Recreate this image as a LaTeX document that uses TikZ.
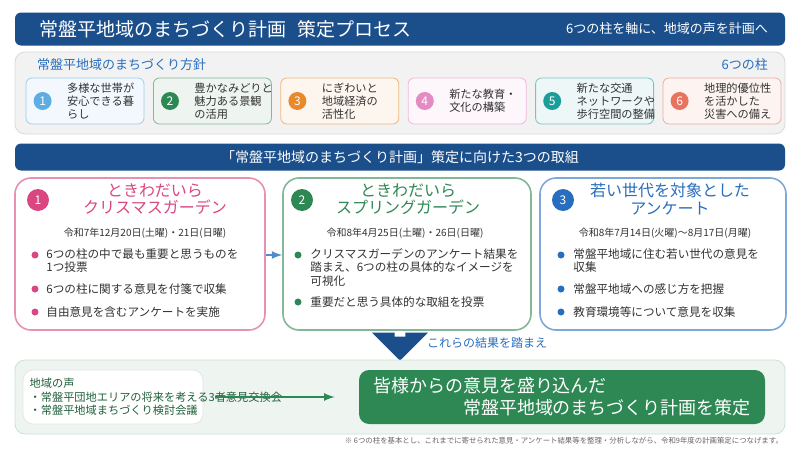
\documentclass[tikz,border=0pt]{standalone}
\usepackage{fontspec}
\setmainfont{Noto Sans CJK JP}
\usetikzlibrary{positioning,shapes.arrows}
\definecolor{mblue}{RGB}{27,79,140}
\definecolor{mgreen}{RGB}{46,136,84}
\definecolor{mpink}{RGB}{217,70,130}
\definecolor{mtblue}{RGB}{40,110,190}
\definecolor{mtext}{RGB}{50,50,50}
\definecolor{pone}{RGB}{93,173,226}
\definecolor{ptwo}{RGB}{46,136,84}
\definecolor{pthree}{RGB}{232,137,43}
\definecolor{pfour}{RGB}{229,139,196}
\definecolor{pfive}{RGB}{26,158,154}
\definecolor{psix}{RGB}{232,115,94}

\begin{document}
\begin{tikzpicture}[x=0.5pt,y=-0.5pt,
    bar/.style={rectangle, rounded corners=3pt, fill=mblue, text=white},
    panel/.style={rectangle, rounded corners=5pt, draw=black!15, fill=#1},
    pillar/.style={rectangle, rounded corners=3pt, draw=#1!60, fill=#1!8, minimum width=59pt, minimum height=23pt, inner sep=0pt},
    num/.style={circle, fill=#1, text=white, minimum size=9pt, inner sep=0pt, font=\fontsize{6}{6}\selectfont},
    ptext/.style={align=left, anchor=west, font=\fontsize{5.6}{6.4}\selectfont, text=mtext},
    card/.style={rectangle, rounded corners=8pt, draw=#1, fill=white, thick, minimum height=76pt, inner sep=0pt},
    ctitle/.style={align=center, font=\fontsize{8}{8.6}\selectfont, text=#1},
    cdate/.style={font=\fontsize{5}{5}\selectfont, text=mtext},
    bul/.style={align=left, anchor=north west, font=\fontsize{5.8}{6.8}\selectfont, text=mtext, text width=96pt, inner sep=0pt},
    dot/.style={circle, fill=#1, minimum size=3.5pt, inner sep=0pt}
    ]
    \useasboundingbox (0,0) rectangle (800,450);
    \fill[white] (0,0) rectangle (800,450);
    %Title
    \node[bar, minimum width=385pt, minimum height=16.5pt] (title) at (400,29) {};
    \node[anchor=west, text=white, font=\fontsize{9.5}{9.5}\selectfont] (titletext) at (32,29) {常盤平地域のまちづくり計画\hspace{0.6em}策定プロセス};
    \node[anchor=east, text=white, font=\fontsize{6.5}{6.5}\selectfont] (subtitle) at (775,29) {6つの柱を軸に、地域の声を計画へ};
    %Policy panel
    \node[panel=black!5, minimum width=385pt, minimum height=41pt] (policy) at (400,93) {};
    \node[anchor=west, text=mtblue, font=\fontsize{6.5}{6.5}\selectfont] (policyhead) at (30,65) {常盤平地域のまちづくり方針};
    \node[anchor=east, text=mtblue, font=\fontsize{6.5}{6.5}\selectfont] (pillarhead) at (775,65) {6つの柱};
    \foreach \i/\c/\t in {1/pone/多様な世帯が\\安心できる暮\\らし,
                          2/ptwo/豊かなみどりと\\魅力ある景観\\の活用,
                          3/pthree/にぎわいと\\地域経済の\\活性化,
                          4/pfour/新たな教育・\\文化の構築,
                          5/pfive/新たな交通\\ネットワークや\\歩行空間の整備,
                          6/psix/地理的優位性\\を活かした\\災害への備え} {
        \pgfmathsetmacro{\xx}{26+(\i-1)*127.4+59}
        \node[pillar=\c] (pillar\i) at (\xx,101) {};
        \node[num=\c] (pnum\i) at ([xshift=8.5pt]pillar\i.west) {\i};
        \node[ptext] (ptext\i) at ([xshift=4pt]pnum\i.east) {\t};
    }
    %Section bar
    \node[bar, minimum width=385pt, minimum height=13.5pt] (section) at (400,157) {};
    \node[text=white, font=\fontsize{7}{7}\selectfont] at (section) {「常盤平地域のまちづくり計画」策定に向けた3つの取組};
    %Cards
    \node[card=mpink!60, minimum width=125pt] (card1) at (140,254) {};
    \node[card=mgreen!60, minimum width=124pt] (card2) at (407,254) {};
    \node[card=mtblue!60, minimum width=123pt] (card3) at (663,254) {};
    \node[num=mpink, minimum size=11pt] (cnum1) at (38,200) {1};
    \node[num=mgreen, minimum size=11pt] (cnum2) at (302,200) {2};
    \node[num=mtblue, minimum size=11pt] (cnum3) at (563,200) {3};
    \node[ctitle=mpink] (ctitle1) at (155,199) {ときわだいら\\クリスマスガーデン};
    \node[ctitle=mgreen] (ctitle2) at (408,199) {ときわだいら\\スプリングガーデン};
    \node[ctitle=mtblue] (ctitle3) at (670,199) {若い世代を対象とした\\アンケート};
    \node[cdate] (date1) at (145,233) {令和7年12月20日(土曜)・21日(日曜)};
    \node[cdate] (date2) at (405,233) {令和8年4月25日(土曜)・26日(日曜)};
    \node[cdate] (date3) at (665,233) {令和8年7月14日(火曜)～8月17日(月曜)};
    % bullets
    \foreach \k/\yy/\t in {1/248/6つの柱の中で最も重要と思うものを\\1つ投票, 2/283/6つの柱に関する意見を付箋で収集, 3/306/自由意見を含むアンケートを実施}
        \node[bul] (b1\k) at (46,\yy) {\t};
    \foreach \k/\yy/\t in {1/248/クリスマスガーデンのアンケート結果を\\踏まえ、6つの柱の具体的なイメージを\\可視化, 2/296/重要だと思う具体的な取組を投票}
        \node[bul] (b2\k) at (310,\yy) {\t};
    \foreach \k/\yy/\t in {1/248/常盤平地域に住む若い世代の意見を\\収集, 2/283/常盤平地域への感じ方を把握, 3/306/教育環境等について意見を収集}
        \node[bul] (b3\k) at (573,\yy) {\t};
    \foreach \k/\yy in {1/255,2/289,3/312} \node[dot=mpink] at (35,\yy) {};
    \foreach \k/\yy in {1/255,2/302} \node[dot=mgreen] at (298,\yy) {};
    \foreach \k/\yy in {1/255,2/289,3/312} \node[dot=mtblue] at (561,\yy) {};
    \draw[-latex, mtblue!80, thick] (card1.east |- 0,255) -- (card2.west |- 0,255);
    %Down arrow
    \node[single arrow, shape border rotate=270, fill=mblue, minimum width=28pt, single arrow head extend=5pt, minimum height=12pt, inner sep=1pt] (down) at (400,346) {};
    \node[anchor=west, text=mtblue, font=\fontsize{6}{6}\selectfont] (downtext) at (420,343) {これらの結果を踏まえ};
    %Bottom panel
    \node[panel=mgreen!8, draw=mgreen!25, minimum width=385pt, minimum height=37pt] (bottom) at (400,397) {};
    \node[rectangle, rounded corners=5pt, fill=white, draw=black!10, minimum width=90pt, minimum height=27pt] (voice) at (113,397) {};
    \node[anchor=west, align=left, text=mgreen!70!black, font=\fontsize{5.6}{6.8}\selectfont] (voicetext) at (voice.west) {地域の声\\・常盤平団地エリアの将来を考える3者意見交換会\\・常盤平地域まちづくり検討会議};
    \node[rectangle, rounded corners=5pt, fill=mgreen, minimum width=203pt, minimum height=27pt] (plan) at (562,397) {};
    \node[text=white, align=left, font=\fontsize{9}{11}\selectfont] (plantext) at (plan) {皆様からの意見を盛り込んだ\\\hspace{5em}常盤平地域のまちづくり計画を策定};
    \draw[-latex, mgreen, thick] ([xshift=6pt]voice.east) -- ([xshift=-12pt]plan.west);
    %Footnote
    \node[anchor=east, text=black!60, font=\fontsize{3.7}{3.7}\selectfont] (note) at (790,441) {※ 6つの柱を基本とし、これまでに寄せられた意見・アンケート結果等を整理・分析しながら、令和9年度の計画策定につなげます。};
\end{tikzpicture}
\end{document}
